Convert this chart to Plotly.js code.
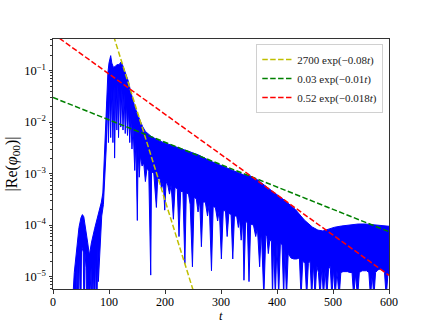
<!DOCTYPE html>
<html>
<head>
<meta charset="utf-8">
<script src="https://cdn.plot.ly/plotly-3.0.1.min.js"></script>
<style>
  html, body { margin: 0; padding: 0; background: #fff; }
  #plot { width: 432px; height: 324px; }
</style>
</head>
<body>
<div id="plot"></div>
<script>
// upper edge of the blue signal
const upT = [35, 36, 38, 41.7, 46.4, 50, 52.5, 55, 58.4, 62, 65, 68.5, 74.5, 80, 86.4, 89, 90.5, 92, 94, 96, 98,
  100, 103, 105, 108, 111, 114, 118, 121, 124, 128, 131, 135, 138, 142, 146, 150, 155, 160, 165, 175, 190,
  210, 235, 260, 280, 300, 320, 340, 351, 365, 378, 395, 414, 433, 449, 463, 473, 482, 493, 503, 515, 529,
  545, 558, 582, 600];
const upV = [1e-6, 5e-6, 1.2e-5, 3.2e-5, 9e-5, 1.4e-4, 1.6e-4, 1.45e-4, 9e-5, 4.5e-5, 2.6e-5, 4.5e-5, 8.7e-5,
  1.45e-4, 2.8e-4, 4.2e-4, 1.2e-3, 3e-3, 1.2e-2, 4e-2, 9e-2,
  0.14, 0.195, 0.14, 0.115, 0.12, 0.13, 0.13, 0.145, 0.13, 0.1, 0.085, 0.06, 0.042, 0.028, 0.02, 0.015,
  0.011, 0.0082, 0.0066, 0.0053, 0.0043,
  0.0036, 0.0029, 0.0023, 0.00177, 0.00145, 0.00118, 0.00095, 9.2e-4, 7.6e-4, 5.9e-4, 4.3e-4, 3.0e-4,
  2.0e-4, 1.25e-4, 9.2e-5, 8.0e-5, 7.7e-5, 8.5e-5, 9.1e-5, 9.6e-5, 1.0e-4,
  1.05e-4, 1.05e-4, 1.0e-4, 9.5e-5];

// lower edge of the blue signal (dips and gaps)
const loT = [36, 41, 43, 45, 47, 49.5, 51, 54, 55.5, 57, 59, 60.5, 62, 64, 66, 68, 70, 72, 74, 76, 78, 80, 81,
  83, 85, 87, 90, 92, 94, 95, 97, 99, 101, 103, 105, 107, 109, 110, 112, 114, 116, 117, 119, 121, 123, 125,
  127, 129, 131, 133, 135, 137, 139, 141, 143, 146, 148, 150.6, 152, 154, 156, 159, 162, 165, 168, 171,
  174.5, 176, 180, 182, 184.6, 187, 191, 194, 197, 199.5, 202, 205, 208, 211, 215, 218, 222, 225, 228, 232,
  235.5, 238, 242, 245, 249, 252, 256, 259, 262, 265, 268, 272, 276, 279, 283, 286, 290, 294, 297, 300.7,
  304, 308, 311, 314, 318, 321, 324, 328, 331, 333, 336, 339, 341, 344, 347, 350, 353, 358, 362, 365, 369,
  372, 376.5, 380, 382, 384.5, 387, 390, 392, 394, 397, 400, 403, 406, 409, 412, 414, 417, 420, 425, 430,
  435, 440, 443, 446, 450, 453, 456, 459, 462, 465, 468, 471, 474, 477, 480, 483, 486, 489, 492, 495, 498,
  501, 504, 507, 511, 514, 518, 522, 526, 530, 534, 537, 540, 544, 547, 552, 556, 560, 564, 567, 570, 573,
  576, 580, 584, 588, 592, 595, 598, 600];
const loV = [1e-6, 1e-6, 1.8e-5, 1e-6, 3.5e-5, 1e-6, 4e-5, 3e-5, 1e-6, 3e-5, 1.5e-5, 1e-6, 1.5e-5, 1e-6,
  1e-6, 1.5e-5, 1e-6, 2e-5, 1e-6, 3e-5, 1e-6, 4e-5, 8e-6,
  3e-5, 6e-5, 1.5e-4, 2.5e-4, 8e-4, 2e-3, 3e-3, 2.5e-2, 4e-3, 4e-2, 5e-3, 4.5e-2, 4e-3, 5e-2, 2e-3, 5e-2,
  7e-3, 5.5e-2, 5e-3, 5e-2, 8e-3, 4.5e-2, 7e-3,
  3.5e-2, 6e-3, 2.5e-2, 5.5e-3, 1.8e-2, 4e-3, 1.2e-2, 3e-3, 8e-3, 1.15e-3, 4e-3, 1.23e-4, 3e-3, 8.5e-4,
  2.2e-3, 1.4e-3, 1.6e-3, 7e-4, 1.3e-3, 1.1e-3,
  1.07e-5, 1.1e-3, 1.0e-3, 6e-4, 2.2e-4, 8e-4, 8e-4, 5e-4, 7e-4, 1.95e-4, 7e-4, 6e-4, 4e-4, 6e-4, 1.3e-4,
  5.5e-4, 5e-4, 6e-5, 4.5e-4, 4.5e-4,
  1.8e-5, 4.2e-4, 4e-4, 2.5e-4, 1.55e-5, 3.5e-4, 3.2e-4, 1.8e-4, 3e-4, 3.8e-5, 2.8e-4, 2.8e-4, 1.5e-4,
  2.6e-4, 1.3e-5, 2.3e-4, 2.2e-4, 1.2e-4, 2e-4, 2.2e-5,
  1.9e-4, 1.9e-4, 6e-5, 1.7e-4, 1.6e-4, 2.2e-5, 1.5e-4, 1.5e-4, 9e-5, 1.4e-4, 5.1e-5, 1.3e-4, 8.5e-6,
  1.2e-4, 1.1e-4, 8e-6, 1.05e-4, 1e-4, 6e-5, 9e-5, 1.55e-5,
  8e-5, 4e-6, 6.5e-5, 6e-5, 2.8e-5, 5e-5, 5e-5, 4e-6, 4.5e-5, 4e-6, 4.5e-5, 4e-6, 4.4e-5, 4.2e-5, 4e-6,
  3.5e-5, 4e-6, 2.8e-5, 2.3e-5, 2.2e-5,
  2.2e-5, 2.3e-5, 4e-6, 2e-5, 1.8e-5, 4e-6, 1.8e-5, 2e-5, 4e-6, 1.8e-5, 4e-6, 1.6e-5, 1.2e-5, 4e-6, 1.5e-5,
  4e-6, 1.4e-5, 4e-6, 1.4e-5, 1.6e-5, 4e-6,
  1.4e-5, 4e-6, 1.3e-5, 4e-6, 1.2e-5, 1.25e-5, 1.25e-5, 1.25e-5, 1.2e-5, 1.2e-5, 4e-6, 1.1e-5, 4e-6,
  1.2e-5, 1.3e-5, 1.3e-5, 1.3e-5, 1.2e-5, 4e-6, 1.1e-5, 4e-6,
  1.2e-5, 1.35e-5, 1.4e-5, 1.35e-5, 1.2e-5, 4e-6, 1.1e-5, 1.1e-5];

// fitted exponentials (end points)
const fitNames = ['2700 exp(−0.08<i>t</i>)', '0.03 exp(−0.01<i>t</i>)', '0.52 exp(−0.018<i>t</i>)'];
const fitColors = ['#bfbf00', '#008000', '#ff0000'];
const fitT = [[100, 250], [0, 600], [0, 600]];
const fitV = [[0.906, 5.55e-6], [0.03, 7.44e-5], [0.52, 1.06e-5]];

const yTickVals = [1e-5, 1e-4, 1e-3, 1e-2, 1e-1];
const yTickText = ['10<sup>−5</sup>', '10<sup>−4</sup>', '10<sup>−3</sup>', '10<sup>−2</sup>', '10<sup>−1</sup>'];

const signal = {
  x: upT.concat(loT.slice().reverse()),
  y: upV.concat(loV.slice().reverse()),
  type: 'scatter',
  mode: 'lines',
  fill: 'toself',
  fillcolor: '#0000ff',
  line: { color: '#0000ff', width: 1 },
  showlegend: false,
  hoverinfo: 'skip'
};

const fits = fitNames.map((name, i) => ({
  x: fitT[i],
  y: fitV[i],
  type: 'scatter',
  mode: 'lines',
  name: name,
  line: { color: fitColors[i], width: 1.5, dash: '5.5px,2.4px' }
}));

const serif = 'Liberation Serif, DejaVu Serif, serif';

const layout = {
  width: 432,
  height: 324,
  margin: { l: 53, r: 43, t: 39, b: 35 },
  paper_bgcolor: '#fff',
  plot_bgcolor: '#fff',
  font: { family: serif, size: 12, color: '#000' },
  showlegend: true,
  legend: {
    x: 0.605, y: 0.98, xanchor: 'left', yanchor: 'top',
    bgcolor: 'rgba(255,255,255,0.85)',
    bordercolor: '#d0d0d0', borderwidth: 1,
    font: { family: serif, size: 11, color: '#222' },
    tracegroupgap: 0
  },
  // x title placed as annotation so it sits clear of the tick labels
  annotations: [{
    text: '<i>t</i>', xref: 'paper', yref: 'paper', x: 0.5, y: -0.109,
    xanchor: 'center', yanchor: 'middle', showarrow: false, borderpad: 0,
    font: { family: serif, size: 12.5, color: '#000' }
  }],
  xaxis: {
    range: [0, 600],
    dtick: 100,
    ticks: 'outside', ticklen: 3.5, tickcolor: '#333',
    ticklabelstandoff: -2,
    showline: true, linecolor: '#333', linewidth: 1, mirror: true,
    showgrid: false, zeroline: false,
    tickfont: { family: serif, size: 12 }
  },
  yaxis: {
    type: 'log',
    range: [Math.log10(5.75e-6), Math.log10(0.41)],
    tickmode: 'array',
    tickvals: yTickVals,
    ticktext: yTickText,
    ticks: 'outside', ticklen: 3.5, tickcolor: '#333',
    minor: { ticks: 'outside', ticklen: 2, tickcolor: '#333', dtick: 'D1', showgrid: false },
    showline: true, linecolor: '#333', linewidth: 1, mirror: true,
    showgrid: false, zeroline: false,
    tickfont: { family: serif, size: 12.5 },
    title: { text: '|Re(<i>φ</i><sub>00</sub>)|', font: { family: serif, size: 16 }, standoff: 2 }
  }
};

Plotly.newPlot('plot', [signal].concat(fits), layout, { displayModeBar: false, staticPlot: true });
</script>
</body>
</html>
